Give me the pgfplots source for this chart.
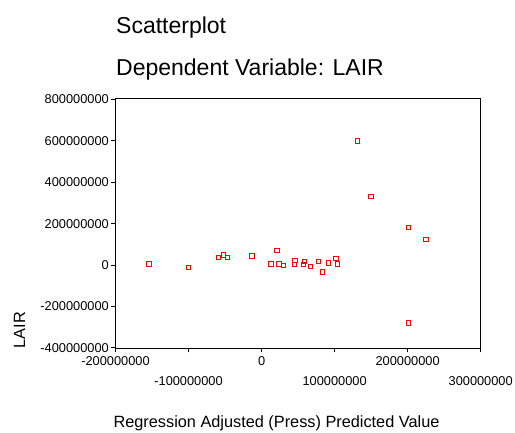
\documentclass[border=0pt]{standalone}
\usepackage{fontspec}
\setmainfont{Liberation Sans}
\usepackage{pgfplots}
\pgfplotsset{compat=1.18}
\begin{document}
\begin{tikzpicture}[x=1pt,y=1pt]
\useasboundingbox (0,0) rectangle (515,432);
\node[anchor=base west,inner sep=0pt,font=\fontsize{23}{26}\selectfont] at (116,398.7) {Scatterplot};
\node[anchor=base west,inner sep=0pt,font=\fontsize{23}{26}\selectfont] at (116,356) {Dependent Variable: LAIR};
\begin{axis}[
  at={(115.5pt,83.7pt)}, anchor=south west,
  scale only axis, width=365.2pt, height=250pt,
  xmin=-200, xmax=300, ymin=-402, ymax=805,
  axis line style={line width=1pt},
  tick style={line width=0.8pt,black},
  tick align=outside, major tick length=4pt,
  xtick pos=bottom, ytick pos=left,
  xtick={-200,0,200},
  xticklabels={-200000000,0,200000000},
  extra x ticks={-100,100,300},
  extra x tick labels={-100000000,100000000,300000000},
  extra x tick style={xticklabel style={yshift=-20pt}},
  ytick={-400,-200,0,200,400,600,800},
  yticklabels={-400000000,-200000000,0,200000000,400000000,600000000,800000000},
  ticklabel style={font=\fontsize{12.8}{14}\selectfont},
  xticklabel style={inner sep=1pt, yshift=-3.5pt},
  yticklabel style={inner sep=2.5pt},
]
\addplot[only marks, mark=square, mark size=2.2pt, color=red,
  mark options={draw=red, fill=none, solid, line width=1pt}] coordinates {
(-154,5) (-100,-13) (-59,37) (-52,48) (-47,37) (-13,43)
(21,71) (13,5) (24,5) (30,-2) (45,3) (46,22) (57,3) (59,16) (67,-7)
(78,16) (83,-34) (92,10) (102,32) (104,5)
(131,599) (150,331) (201,180) (225,122) (201,-279)
};
\end{axis}
\node[anchor=base,inner sep=0pt,font=\fontsize{16.3}{18}\selectfont] at (276.5,5) {Regression Adjusted (Press) Predicted Value};
\node[anchor=base,rotate=90,inner sep=0pt,font=\fontsize{16.3}{18}\selectfont] at (25,102) {LAIR};
\end{tikzpicture}
\end{document}
